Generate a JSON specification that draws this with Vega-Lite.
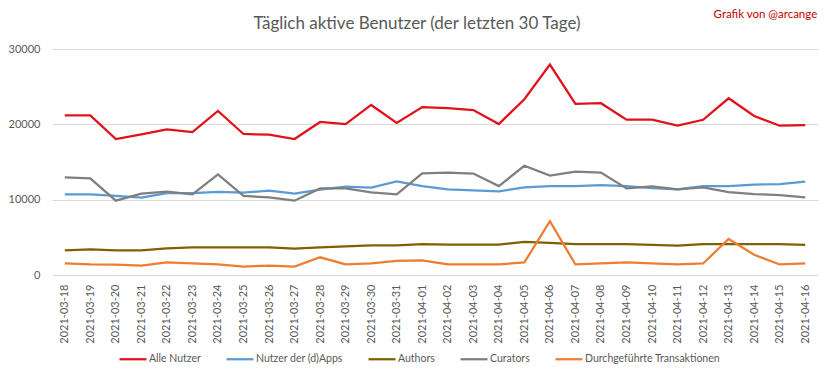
{
  "$schema": "https://vega.github.io/schema/vega-lite/v6.json",
  "width": 766,
  "height": 226,
  "autosize": "none",
  "padding": {"left": 52, "top": 49, "right": 15, "bottom": 104},
  "background": "white",
  "title": {"text": "Täglich aktive Benutzer (der letzten 30 Tage)", "font": "Lato", "fontSize": 17, "fontWeight": "normal", "color": "#595959", "anchor": "middle", "dx": -18, "offset": -24},
  "config": {"view": {"stroke": null}, "font": "Lato"},
  "data": {"values": [
    {"d":"2021-03-18","s":"Alle Nutzer","v":21190},{"d":"2021-03-19","s":"Alle Nutzer","v":21190},{"d":"2021-03-20","s":"Alle Nutzer","v":18050},{"d":"2021-03-21","s":"Alle Nutzer","v":18670},{"d":"2021-03-22","s":"Alle Nutzer","v":19340},{"d":"2021-03-23","s":"Alle Nutzer","v":18980},{"d":"2021-03-24","s":"Alle Nutzer","v":21770},{"d":"2021-03-25","s":"Alle Nutzer","v":18720},{"d":"2021-03-26","s":"Alle Nutzer","v":18630},{"d":"2021-03-27","s":"Alle Nutzer","v":18050},{"d":"2021-03-28","s":"Alle Nutzer","v":20310},{"d":"2021-03-29","s":"Alle Nutzer","v":20040},{"d":"2021-03-30","s":"Alle Nutzer","v":22570},{"d":"2021-03-31","s":"Alle Nutzer","v":20180},{"d":"2021-04-01","s":"Alle Nutzer","v":22280},{"d":"2021-04-02","s":"Alle Nutzer","v":22150},{"d":"2021-04-03","s":"Alle Nutzer","v":21890},{"d":"2021-04-04","s":"Alle Nutzer","v":20040},{"d":"2021-04-05","s":"Alle Nutzer","v":23330},{"d":"2021-04-06","s":"Alle Nutzer","v":27940},{"d":"2021-04-07","s":"Alle Nutzer","v":22720},{"d":"2021-04-08","s":"Alle Nutzer","v":22800},{"d":"2021-04-09","s":"Alle Nutzer","v":20610},{"d":"2021-04-10","s":"Alle Nutzer","v":20610},{"d":"2021-04-11","s":"Alle Nutzer","v":19820},{"d":"2021-04-12","s":"Alle Nutzer","v":20610},{"d":"2021-04-13","s":"Alle Nutzer","v":23460},{"d":"2021-04-14","s":"Alle Nutzer","v":21100},{"d":"2021-04-15","s":"Alle Nutzer","v":19820},{"d":"2021-04-16","s":"Alle Nutzer","v":19910},
    {"d":"2021-03-18","s":"Nutzer der (d)Apps","v":10710},{"d":"2021-03-19","s":"Nutzer der (d)Apps","v":10710},{"d":"2021-03-20","s":"Nutzer der (d)Apps","v":10490},{"d":"2021-03-21","s":"Nutzer der (d)Apps","v":10270},{"d":"2021-03-22","s":"Nutzer der (d)Apps","v":10880},{"d":"2021-03-23","s":"Nutzer der (d)Apps","v":10880},{"d":"2021-03-24","s":"Nutzer der (d)Apps","v":11020},{"d":"2021-03-25","s":"Nutzer der (d)Apps","v":10930},{"d":"2021-03-26","s":"Nutzer der (d)Apps","v":11190},{"d":"2021-03-27","s":"Nutzer der (d)Apps","v":10800},{"d":"2021-03-28","s":"Nutzer der (d)Apps","v":11330},{"d":"2021-03-29","s":"Nutzer der (d)Apps","v":11730},{"d":"2021-03-30","s":"Nutzer der (d)Apps","v":11600},{"d":"2021-03-31","s":"Nutzer der (d)Apps","v":12430},{"d":"2021-04-01","s":"Nutzer der (d)Apps","v":11800},{"d":"2021-04-02","s":"Nutzer der (d)Apps","v":11360},{"d":"2021-04-03","s":"Nutzer der (d)Apps","v":11230},{"d":"2021-04-04","s":"Nutzer der (d)Apps","v":11100},{"d":"2021-04-05","s":"Nutzer der (d)Apps","v":11620},{"d":"2021-04-06","s":"Nutzer der (d)Apps","v":11800},{"d":"2021-04-07","s":"Nutzer der (d)Apps","v":11800},{"d":"2021-04-08","s":"Nutzer der (d)Apps","v":11930},{"d":"2021-04-09","s":"Nutzer der (d)Apps","v":11800},{"d":"2021-04-10","s":"Nutzer der (d)Apps","v":11530},{"d":"2021-04-11","s":"Nutzer der (d)Apps","v":11360},{"d":"2021-04-12","s":"Nutzer der (d)Apps","v":11800},{"d":"2021-04-13","s":"Nutzer der (d)Apps","v":11800},{"d":"2021-04-14","s":"Nutzer der (d)Apps","v":12000},{"d":"2021-04-15","s":"Nutzer der (d)Apps","v":12060},{"d":"2021-04-16","s":"Nutzer der (d)Apps","v":12400},
    {"d":"2021-03-18","s":"Authors","v":3270},{"d":"2021-03-19","s":"Authors","v":3400},{"d":"2021-03-20","s":"Authors","v":3270},{"d":"2021-03-21","s":"Authors","v":3270},{"d":"2021-03-22","s":"Authors","v":3540},{"d":"2021-03-23","s":"Authors","v":3670},{"d":"2021-03-24","s":"Authors","v":3670},{"d":"2021-03-25","s":"Authors","v":3670},{"d":"2021-03-26","s":"Authors","v":3670},{"d":"2021-03-27","s":"Authors","v":3500},{"d":"2021-03-28","s":"Authors","v":3670},{"d":"2021-03-29","s":"Authors","v":3800},{"d":"2021-03-30","s":"Authors","v":3940},{"d":"2021-03-31","s":"Authors","v":3940},{"d":"2021-04-01","s":"Authors","v":4100},{"d":"2021-04-02","s":"Authors","v":4040},{"d":"2021-04-03","s":"Authors","v":4040},{"d":"2021-04-04","s":"Authors","v":4040},{"d":"2021-04-05","s":"Authors","v":4400},{"d":"2021-04-06","s":"Authors","v":4250},{"d":"2021-04-07","s":"Authors","v":4100},{"d":"2021-04-08","s":"Authors","v":4100},{"d":"2021-04-09","s":"Authors","v":4100},{"d":"2021-04-10","s":"Authors","v":4000},{"d":"2021-04-11","s":"Authors","v":3900},{"d":"2021-04-12","s":"Authors","v":4100},{"d":"2021-04-13","s":"Authors","v":4100},{"d":"2021-04-14","s":"Authors","v":4100},{"d":"2021-04-15","s":"Authors","v":4100},{"d":"2021-04-16","s":"Authors","v":4000},
    {"d":"2021-03-18","s":"Curators","v":12960},{"d":"2021-03-19","s":"Curators","v":12830},{"d":"2021-03-20","s":"Curators","v":9870},{"d":"2021-03-21","s":"Curators","v":10800},{"d":"2021-03-22","s":"Curators","v":11060},{"d":"2021-03-23","s":"Curators","v":10710},{"d":"2021-03-24","s":"Curators","v":13360},{"d":"2021-03-25","s":"Curators","v":10490},{"d":"2021-03-26","s":"Curators","v":10310},{"d":"2021-03-27","s":"Curators","v":9870},{"d":"2021-03-28","s":"Curators","v":11500},{"d":"2021-03-29","s":"Curators","v":11500},{"d":"2021-03-30","s":"Curators","v":10970},{"d":"2021-03-31","s":"Curators","v":10710},{"d":"2021-04-01","s":"Curators","v":13500},{"d":"2021-04-02","s":"Curators","v":13600},{"d":"2021-04-03","s":"Curators","v":13460},{"d":"2021-04-04","s":"Curators","v":11800},{"d":"2021-04-05","s":"Curators","v":14500},{"d":"2021-04-06","s":"Curators","v":13200},{"d":"2021-04-07","s":"Curators","v":13730},{"d":"2021-04-08","s":"Curators","v":13600},{"d":"2021-04-09","s":"Curators","v":11500},{"d":"2021-04-10","s":"Curators","v":11750},{"d":"2021-04-11","s":"Curators","v":11360},{"d":"2021-04-12","s":"Curators","v":11620},{"d":"2021-04-13","s":"Curators","v":11000},{"d":"2021-04-14","s":"Curators","v":10750},{"d":"2021-04-15","s":"Curators","v":10600},{"d":"2021-04-16","s":"Curators","v":10300},
    {"d":"2021-03-18","s":"Durchgeführte Transaktionen","v":1550},{"d":"2021-03-19","s":"Durchgeführte Transaktionen","v":1420},{"d":"2021-03-20","s":"Durchgeführte Transaktionen","v":1370},{"d":"2021-03-21","s":"Durchgeführte Transaktionen","v":1240},{"d":"2021-03-22","s":"Durchgeführte Transaktionen","v":1680},{"d":"2021-03-23","s":"Durchgeführte Transaktionen","v":1550},{"d":"2021-03-24","s":"Durchgeführte Transaktionen","v":1420},{"d":"2021-03-25","s":"Durchgeführte Transaktionen","v":1110},{"d":"2021-03-26","s":"Durchgeführte Transaktionen","v":1240},{"d":"2021-03-27","s":"Durchgeführte Transaktionen","v":1110},{"d":"2021-03-28","s":"Durchgeführte Transaktionen","v":2350},{"d":"2021-03-29","s":"Durchgeführte Transaktionen","v":1420},{"d":"2021-03-30","s":"Durchgeführte Transaktionen","v":1550},{"d":"2021-03-31","s":"Durchgeführte Transaktionen","v":1860},{"d":"2021-04-01","s":"Durchgeführte Transaktionen","v":1930},{"d":"2021-04-02","s":"Durchgeführte Transaktionen","v":1400},{"d":"2021-04-03","s":"Durchgeführte Transaktionen","v":1400},{"d":"2021-04-04","s":"Durchgeführte Transaktionen","v":1400},{"d":"2021-04-05","s":"Durchgeführte Transaktionen","v":1670},{"d":"2021-04-06","s":"Durchgeführte Transaktionen","v":7150},{"d":"2021-04-07","s":"Durchgeführte Transaktionen","v":1400},{"d":"2021-04-08","s":"Durchgeführte Transaktionen","v":1530},{"d":"2021-04-09","s":"Durchgeführte Transaktionen","v":1670},{"d":"2021-04-10","s":"Durchgeführte Transaktionen","v":1530},{"d":"2021-04-11","s":"Durchgeführte Transaktionen","v":1400},{"d":"2021-04-12","s":"Durchgeführte Transaktionen","v":1530},{"d":"2021-04-13","s":"Durchgeführte Transaktionen","v":4780},{"d":"2021-04-14","s":"Durchgeführte Transaktionen","v":2680},{"d":"2021-04-15","s":"Durchgeführte Transaktionen","v":1400},{"d":"2021-04-16","s":"Durchgeführte Transaktionen","v":1530}
  ]},
  "layer": [
    {
      "mark": {"type": "line", "strokeWidth": 2.25},
      "encoding": {
        "x": {"field": "d", "type": "ordinal", "sort": null, "scale": {"type": "point", "padding": 0.5},
              "axis": {"title": null, "labelAngle": 270, "labelAlign": "right", "labelBaseline": "middle", "labelPadding": 9, "ticks": false, "domain": false, "grid": false, "labelColor": "#595959", "labelFontSize": 11}},
        "y": {"field": "v", "type": "quantitative", "scale": {"domain": [0, 30000], "nice": false},
              "axis": {"title": null, "values": [0, 5000, 10000, 15000, 20000, 25000, 30000], "format": "d", "ticks": false, "domain": false, "labelPadding": 12, "gridColor": "#d9d9d9", "labelColor": "#595959", "labelFontSize": 11}},
        "color": {"field": "s", "type": "nominal",
                  "scale": {"domain": ["Alle Nutzer", "Nutzer der (d)Apps", "Authors", "Curators", "Durchgeführte Transaktionen"], "range": ["#e3101a", "#5b9bd5", "#7f6000", "#7f7f7f", "#ed7d31"]},
                  "legend": {"title": null, "orient": "none", "legendX": 66, "legendY": 295, "direction": "horizontal", "symbolType": "stroke", "symbolSize": 729, "symbolStrokeWidth": 2.25, "labelFontSize": 10.5, "labelColor": "#595959", "columnPadding": 21, "labelOffset": 1}}
      }
    },
    {
      "data": {"values": [{"d": "2021-04-16", "v": 34500, "t": "Grafik von @arcange"}]},
      "mark": {"type": "text", "align": "right", "dx": 12, "baseline": "middle", "color": "#c00000", "fontSize": 11.5, "clip": false},
      "encoding": {
        "x": {"field": "d", "type": "ordinal"},
        "y": {"field": "v", "type": "quantitative", "scale": {"domain": [0, 30000], "nice": false}},
        "text": {"field": "t"}
      }
    }
  ]
}
